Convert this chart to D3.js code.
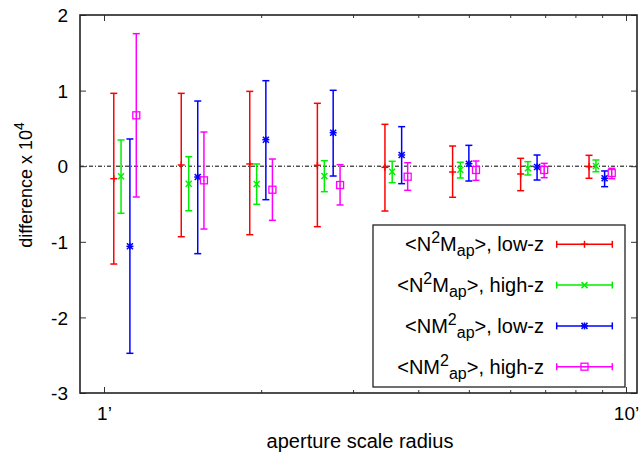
<!DOCTYPE html>
<html><head><meta charset="utf-8">
<script src="https://cdn.jsdelivr.net/npm/d3@7"></script>
<style>
body{margin:0;background:#fff;}
text{font-family:"Liberation Sans",Arial,sans-serif;fill:#000;}
</style></head>
<body><svg id="c" width="639" height="456"></svg>
<script>
// ---- data ----
const seriesNames = ["N2Map_low", "N2Map_high", "NM2ap_low", "NM2ap_high"];
const redX  = [1.044, 1.406, 1.902, 2.563, 3.453, 4.654, 6.283, 8.495];
const redY  = [-0.165, 0.016, 0.03, 0.012, -0.015, -0.077, -0.103, -0.007];
const redLo = [-1.294, -0.933, -0.906, -0.80, -0.593, -0.411, -0.324, -0.16];
const redHi = [0.964, 0.964, 0.99, 0.832, 0.554, 0.267, 0.104, 0.144];

const greenX  = [1.078, 1.453, 1.961, 2.643, 3.565, 4.815, 6.487, 8.758];
const greenY  = [-0.134, -0.231, -0.235, -0.13, -0.073, -0.046, -0.028, 0.003];
const greenLo = [-0.623, -0.589, -0.504, -0.337, -0.218, -0.156, -0.116, -0.073];
const greenHi = [0.347, 0.126, 0.029, 0.073, 0.065, 0.052, 0.06, 0.082];

const blueX  = [1.121, 1.512, 2.042, 2.748, 3.717, 5.0, 6.755, 9.1];
const blueY  = [-1.06, -0.143, 0.351, 0.443, 0.148, 0.033, -0.011, -0.16];
const blueLo = [-2.475, -1.157, -0.443, -0.13, -0.231, -0.196, -0.183, -0.271];
const blueHi = [0.36, 0.862, 1.131, 1.004, 0.523, 0.276, 0.148, -0.063];

const magX  = [1.153, 1.554, 2.102, 2.833, 3.817, 5.16, 6.97, 9.39];
const magY  = [0.673, -0.187, -0.311, -0.249, -0.139, -0.05, -0.05, -0.09];
const magLo = [-0.407, -0.831, -0.716, -0.513, -0.319, -0.187, -0.152, -0.165];
const magHi = [1.753, 0.452, 0.095, 0.02, 0.046, 0.069, 0.038, -0.028];

const yTicks = [-3, -2, -1, 0, 1, 2];
const yTickLabels = ["-3", "-2", "-1", "0", "1", "2"];
const xMajorTicks = [1, 10];
const xMajorLabels = ["1\u2019", "10\u2019"];
const xMinorTicks = [2, 3, 4, 5, 6, 7, 8, 9];

// ---- layout ----
const W = 639, H = 456;
const m = {l: 80, r: 637, t: 15, b: 393};
const svg = d3.select("#c");
const x = d3.scaleLog().domain([0.8995, 10.497]).range([m.l, m.r]);
const y = d3.scaleLinear().domain([-3, 2]).range([m.b, m.t]);

const series = [
  {x: redX, y: redY, lo: redLo, hi: redHi, color: "#ff0000", marker: "plus"},
  {x: greenX, y: greenY, lo: greenLo, hi: greenHi, color: "#00ee00", marker: "cross"},
  {x: blueX, y: blueY, lo: blueLo, hi: blueHi, color: "#0000ff", marker: "star"},
  {x: magX, y: magY, lo: magLo, hi: magHi, color: "#ff00ff", marker: "square"}
];

// zero line
svg.append("line").attr("x1", m.l).attr("x2", m.r).attr("y1", y(0)).attr("y2", y(0))
  .attr("stroke", "#000").attr("stroke-width", 1).attr("stroke-dasharray", "4,2,1,2");

// axes
const fontSize = 19;
const gL = svg.append("g").attr("transform", `translate(${m.l},0)`)
  .call(d3.axisLeft(y).tickValues(yTicks).tickSize(-6).tickPadding(12)
    .tickFormat((d, i) => yTickLabels[i]));
const gR = svg.append("g").attr("transform", `translate(${m.r},0)`)
  .call(d3.axisRight(y).tickValues(yTicks).tickSize(-6).tickFormat(""));
const gB = svg.append("g").attr("transform", `translate(0,${m.b})`)
  .call(d3.axisBottom(x).tickValues(xMajorTicks).tickSize(-6).tickPadding(14)
    .tickFormat((d, i) => xMajorLabels[i]));
const gBm = svg.append("g").attr("transform", `translate(0,${m.b})`)
  .call(d3.axisBottom(x).tickValues(xMinorTicks).tickSize(-3).tickFormat(""));
const gT = svg.append("g").attr("transform", `translate(0,${m.t})`)
  .call(d3.axisTop(x).tickValues(xMajorTicks).tickSize(-6).tickFormat(""));
const gTm = svg.append("g").attr("transform", `translate(0,${m.t})`)
  .call(d3.axisTop(x).tickValues(xMinorTicks).tickSize(-3).tickFormat(""));
[gL, gR, gB, gBm, gT, gTm].forEach(g => {
  g.select(".domain").remove();
  g.selectAll(".tick line").attr("stroke", "#333").attr("stroke-width", 1);
  g.selectAll("text").attr("font-family", "Liberation Sans, Arial, sans-serif")
    .attr("font-size", fontSize).attr("fill", "#000");
});
gL.selectAll(".tick text").attr("dy", "0.35em");

// frame
svg.append("rect").attr("x", m.l).attr("y", m.t).attr("width", m.r - m.l).attr("height", m.b - m.t)
  .attr("fill", "none").attr("stroke", "#222").attr("stroke-width", 1.6);

// markers
function drawMarker(g, type, cx, cy, color) {
  const s = 3.5;
  if (type === "plus" || type === "star") {
    g.append("line").attr("x1", cx - s).attr("x2", cx + s).attr("y1", cy).attr("y2", cy)
      .attr("stroke", color).attr("stroke-width", 1.5);
    g.append("line").attr("x1", cx).attr("x2", cx).attr("y1", cy - s).attr("y2", cy + s)
      .attr("stroke", color).attr("stroke-width", 1.5);
  }
  if (type === "cross" || type === "star") {
    const t = 3;
    g.append("line").attr("x1", cx - t).attr("x2", cx + t).attr("y1", cy - t).attr("y2", cy + t)
      .attr("stroke", color).attr("stroke-width", 1.5);
    g.append("line").attr("x1", cx - t).attr("x2", cx + t).attr("y1", cy + t).attr("y2", cy - t)
      .attr("stroke", color).attr("stroke-width", 1.5);
  }
  if (type === "square") {
    g.append("rect").attr("x", cx - 3.5).attr("y", cy - 3.5).attr("width", 7).attr("height", 7)
      .attr("fill", "none").attr("stroke", color).attr("stroke-width", 1.3);
    g.append("rect").attr("x", cx - 0.5).attr("y", cy - 0.5).attr("width", 1).attr("height", 1)
      .attr("fill", color);
  }
}

const cap = 3.5;
series.forEach(s => {
  const g = svg.append("g");
  s.x.forEach((xv, i) => {
    const cx = x(xv);
    g.append("line").attr("x1", cx).attr("x2", cx).attr("y1", y(s.lo[i])).attr("y2", y(s.hi[i]))
      .attr("stroke", s.color).attr("stroke-width", 1.5);
    [s.lo[i], s.hi[i]].forEach(v => {
      g.append("line").attr("x1", cx - cap).attr("x2", cx + cap).attr("y1", y(v)).attr("y2", y(v))
        .attr("stroke", s.color).attr("stroke-width", 1.5);
    });
    drawMarker(g, s.marker, cx, y(s.y[i]), s.color);
  });
});

// legend
const lg = svg.append("g");
lg.append("rect").attr("x", 373).attr("y", 225).attr("width", 252).attr("height", 162)
  .attr("fill", "#fff").attr("stroke", "#222").attr("stroke-width", 1.3);
const legendRows = [
  {pre: "<N", sup: "2", mid: "M", sub: "ap", post: ">, low-z", mode: "a"},
  {pre: "<N", sup: "2", mid: "M", sub: "ap", post: ">, high-z", mode: "a"},
  {pre: "<NM", sup: "2", mid: "", sub: "ap", post: ">, low-z", mode: "b"},
  {pre: "<NM", sup: "2", mid: "", sub: "ap", post: ">, high-z", mode: "b"}
];
legendRows.forEach((r, i) => {
  const cy = 244.3 + i * 40.8;
  const t = lg.append("text").attr("x", 544).attr("y", cy + 7).attr("text-anchor", "end")
    .attr("font-size", 20);
  t.append("tspan").text(r.pre);
  t.append("tspan").attr("dy", -8).attr("font-size", 16).text(r.sup);
  if (r.mode === "a") {
    t.append("tspan").attr("dy", 8).text(r.mid);
    t.append("tspan").attr("dy", 5).attr("font-size", 16).text(r.sub);
    t.append("tspan").attr("dy", -5).text(r.post);
  } else {
    t.append("tspan").attr("dy", 13).attr("font-size", 16).text(r.sub);
    t.append("tspan").attr("dy", -5).text(r.post);
  }
  const s = series[i];
  lg.append("line").attr("x1", 556.7).attr("x2", 612.3).attr("y1", cy).attr("y2", cy)
    .attr("stroke", s.color).attr("stroke-width", 1.5);
  [556.7, 612.3].forEach(px => lg.append("line").attr("x1", px).attr("x2", px)
    .attr("y1", cy - cap).attr("y2", cy + cap).attr("stroke", s.color).attr("stroke-width", 1.5));
  drawMarker(lg, s.marker, 584.5, cy, s.color);
});

// axis labels
svg.append("text").attr("x", 360).attr("y", 448).attr("text-anchor", "middle")
  .attr("font-size", 20).text("aperture scale radius");
const yl = svg.append("text").attr("transform", "translate(32,185) rotate(-90)")
  .attr("text-anchor", "middle").attr("font-size", 18);
yl.append("tspan").text("difference x 10");
yl.append("tspan").attr("dy", -8).attr("font-size", 14).text("4");
</script></body></html>
